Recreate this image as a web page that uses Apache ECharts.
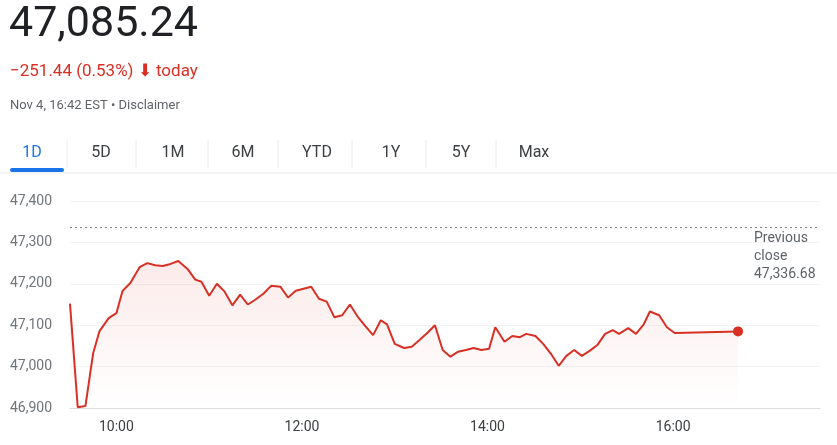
<!DOCTYPE html>
<html><head><meta charset="utf-8">
<script src="https://cdn.jsdelivr.net/npm/echarts@6/dist/echarts.min.js"></script>
<style>html,body{margin:0;padding:0;background:#fff}#c{width:837px;height:445px}</style>
</head><body><div id="c"></div>
<script>
const times=[570,575,580,585,589,595,600,604,609,615,620,625,630,635,640,646,651,655,660,665,670,675,680,685,690,695,700,706,711,716,721,726,731,736,741,746,751,756,761,766,771,775,780,786,791,796,801,806,811,816,821,826,831,836,841,845,851,856,861,865,871,876,881,886,891,896,901,906,911,916,921,925,931,936,941,945,951,956,961,1002];
const values=[47152,46902,46905,47033,47085,47117,47129,47183,47202,47240,47250,47245,47243,47248,47255,47236,47210,47205,47171,47200,47181,47148,47174,47150,47162,47176,47195,47193,47167,47183,47188,47193,47164,47157,47119,47124,47150,47121,47098,47076,47112,47102,47055,47045,47048,47064,47081,47100,47040,47024,47036,47040,47045,47040,47043,47095,47060,47074,47071,47079,47074,47055,47031,47002,47026,47040,47026,47038,47052,47079,47088,47079,47093,47079,47102,47133,47124,47095,47081,47085];
const yTicks=[46900,47000,47100,47200,47300,47400];
const xTickMinutes=[600,720,840,960];
const prevClose=47336.68;
const tabs=['1D','5D','1M','6M','YTD','1Y','5Y','Max'];
const tabX=[32,101,173,243,317,391,461,534];
const red='#d93025';
const data=times.map((t,i)=>[t,values[i]]);
const fmt=m=>Math.floor(m/60)+':'+String(m%60).padStart(2,'0');
const graphics=[
 {type:'text',left:9,top:4,style:{text:'47,085.24',font:'400 43px Roboto, Arial',fill:'#202124'}},
 {type:'text',left:10,top:63,style:{text:'\u2212251.44 (0.53%) \u2B07 today',font:'17px Roboto, Arial',fill:red}},
 {type:'text',left:10,top:99,style:{rich:{a:{font:'13px Roboto, Arial',fill:'#5f6368'},b:{font:'13px Roboto, Arial',fill:'#5f6368',textDecoration:'underline'}},text:'{a|Nov 4, 16:42 EST • }{b|Disclaimer}'}},
 {type:'rect',shape:{x:10,y:168,width:54,height:4,r:2},style:{fill:'#1a73e8'}},
 {type:'line',shape:{x1:0,y1:173,x2:837,y2:173},style:{stroke:'#e8eaed',lineWidth:1}},
 {type:'text',left:754,top:229,style:{text:'Previous\nclose\n47,336.68',font:'14px Roboto, Arial',fill:'#5f6368',lineHeight:18}}
];
tabs.forEach((t,i)=>{
 graphics.push({type:'text',x:tabX[i],y:145,style:{text:t,font:'16px Roboto, Arial',fill:i==0?'#1a73e8':'#3c4043',align:'center'}});
 if(i<tabs.length-1) graphics.push({type:'line',shape:{x1:tabX[i]+35,y1:140,x2:tabX[i]+35,y2:168},style:{stroke:'#e8eaed'}});
});
const chart=echarts.init(document.getElementById('c'));
chart.setOption({
 animation:false,
 grid:{left:70,right:17,top:201,bottom:37},
 xAxis:{type:'value',min:570,max:1055,axisLine:{show:true,lineStyle:{color:'#dadce0'}},axisTick:{show:false},splitLine:{show:false},
  axisLabel:{customValues:xTickMinutes,formatter:v=>fmt(v),color:'#3c4043',fontSize:14,fontFamily:'Roboto, Arial',margin:12}},
 yAxis:{type:'value',min:46900,max:47400,interval:100,axisLine:{show:false},axisTick:{show:false},
  splitLine:{lineStyle:{color:'#f1f3f4'}},
  axisLabel:{formatter:v=>v.toLocaleString('en-US'),align:'left',margin:60,color:'#70757a',fontSize:14,fontFamily:'Roboto, Arial'}},
 graphic:graphics,
 series:[{type:'line',data:data,symbol:'none',lineStyle:{color:red,width:2},
  areaStyle:{origin:'start',color:new echarts.graphic.LinearGradient(0,0,0,1,[{offset:0,color:'rgba(217,48,37,0.14)'},{offset:1,color:'rgba(217,48,37,0.0)'}])},
  markLine:{symbol:'none',silent:true,label:{show:false},lineStyle:{color:'#80868b',type:[2,3],width:1},data:[{yAxis:prevClose}]},
  markPoint:{symbol:'circle',symbolSize:10,itemStyle:{color:red},label:{show:false},data:[{coord:data[data.length-1]}]}
 }]
});
</script></body></html>
